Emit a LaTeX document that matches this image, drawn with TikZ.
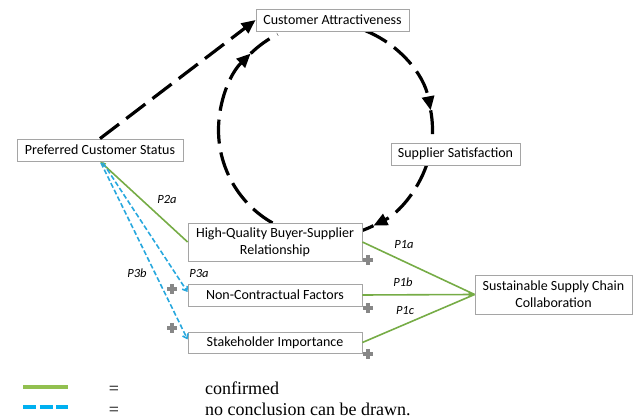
\documentclass[tikz,border=0pt]{standalone}
\usepackage{fontspec}
\setmainfont{Carlito}
\newfontfamily\legendfont{Liberation Serif}
\usetikzlibrary{arrows.meta,calc}
\definecolor{grn}{RGB}{118,172,70}
\definecolor{lgrn}{RGB}{146,192,80}
\definecolor{blu}{RGB}{40,168,222}
\definecolor{lblu}{RGB}{0,176,240}
\definecolor{boxgray}{RGB}{165,165,165}
\definecolor{plusgray}{RGB}{135,135,135}
\begin{document}
\begin{tikzpicture}[x=1pt,y=1pt,
  box/.style={draw=boxgray, line width=0.8pt, fill=white, inner sep=0pt, align=center, font=\fontsize{14}{17}\selectfont},
  loopline/.style={line width=3.2pt, dash pattern=on 24pt off 9pt},
  loophead/.style={-{Triangle[length=14pt,width=12pt]}},
  conf/.style={draw=grn, line width=1.6pt},
  nocon/.style={draw=blu, line width=1.6pt, dash pattern=on 5pt off 2.5pt},
  plab/.style={inner sep=0pt, font=\fontsize{12.5}{13}\selectfont\itshape},
  plussign/.style={draw=plusgray, line width=3.4pt},
  legend/.style={inner sep=0pt, font=\legendfont\fontsize{18}{20}\selectfont},
]
\useasboundingbox (0,0) rectangle (635,-419);

% feedback loop (circle arcs)
\coordinate (O) at (325.5,-130);
\draw[loopline, loophead] ($(O)+(68:107pt)$) arc[start angle=68, end angle=10.6, radius=107pt];
\draw[loopline] ($(O)+(10.6:107pt)$) arc[start angle=10.6, end angle=-7, radius=107pt];
\draw[loopline, loophead] ($(O)+(-19.1:107pt)$) arc[start angle=-19.1, end angle=-63.4, radius=107pt];
\draw[loopline] ($(O)+(-63.4:107pt)$) arc[start angle=-63.4, end angle=-70.3, radius=107pt];
\draw[loopline, loophead] ($(O)+(240.3:107pt)$) arc[start angle=240.3, end angle=134.4, radius=107pt];
\draw[loopline] ($(O)+(134.4:107pt)$) arc[start angle=134.4, end angle=116.6, radius=107pt];

% boxes
\node[box, minimum width=153pt, minimum height=22pt] (ca) at (332.5,-20) {Customer Attractiveness};
\node[box, minimum width=129pt, minimum height=22pt] (ss) at (455.5,-154) {Supplier Satisfaction};
\node[box, minimum width=166pt, minimum height=22pt] (pcs) at (100,-150) {Preferred Customer Status};
\node[box, minimum width=174pt, minimum height=38pt] (hq) at (275,-242) {High-Quality Buyer-Supplier\\Relationship};
\node[box, minimum width=174pt, minimum height=22pt] (ncf) at (275,-295) {Non-Contractual Factors};
\node[box, minimum width=174pt, minimum height=21pt] (si) at (275,-342.5) {Stakeholder Importance};
\node[box, minimum width=157pt, minimum height=39pt] (sscc) at (553.5,-294.5) {Sustainable Supply Chain\\Collaboration};

% connectors
\draw[loopline, loophead] (pcs.north) -- (ca.west);
\draw[conf, -{Triangle[length=6pt,width=5pt]}] (hq.west) -- (pcs.south);
\coordinate (b1) at ($(pcs.south)+(3,-1.5)$);
\coordinate (b2) at ($(pcs.south)+(1,-1.5)$);
\draw[nocon, -{Straight Barb[length=4pt,width=6pt]}] (b1) -- ($(ncf.west)+(0,3)$);
\draw[nocon, -{Straight Barb[length=4pt,width=6pt]}] (b2) -- ($(si.west)+(0,3)$);
\draw[conf] (hq.east) -- (sscc.west);
\draw[conf, -{Triangle[length=6pt,width=5pt]}] (ncf.east) -- (sscc.west);
\draw[conf] (si.east) -- (sscc.west);

% labels
\node[plab] (p2a) at (167,-199) {P2a};
\node[plab] (p3b) at (137,-273) {P3b};
\node[plab] (p3a) at (199,-273) {P3a};
\node[plab] (p1a) at (404,-245) {P1a};
\node[plab] (p1b) at (403,-282) {P1b};
\node[plab] (p1c) at (405,-311) {P1c};

% plus signs
\foreach \x/\y in {172/289, 172/328, 368/260, 368/308, 368/354} {
  \draw[plussign] ({\x-5},{-\y}) -- ({\x+5},{-\y});
  \draw[plussign] ({\x},{-\y+5}) -- ({\x},{-\y-5});
}

% legend
\draw[draw=lgrn, line width=3.5pt] (23,-387) -- (68,-387);
\draw[draw=lblu, line width=3.5pt, dash pattern=on 13pt off 3.5pt] (23,-407) -- (68,-407);
\node[legend, anchor=base] (eq1) at (114,-395) {=};
\node[legend, anchor=base] (eq2) at (114,-416) {=};
\node[legend, anchor=base west] (l1) at (205,-395) {confirmed};
\node[legend, anchor=base west] (l2) at (205,-416) {no conclusion can be drawn.};
\end{tikzpicture}
\end{document}
